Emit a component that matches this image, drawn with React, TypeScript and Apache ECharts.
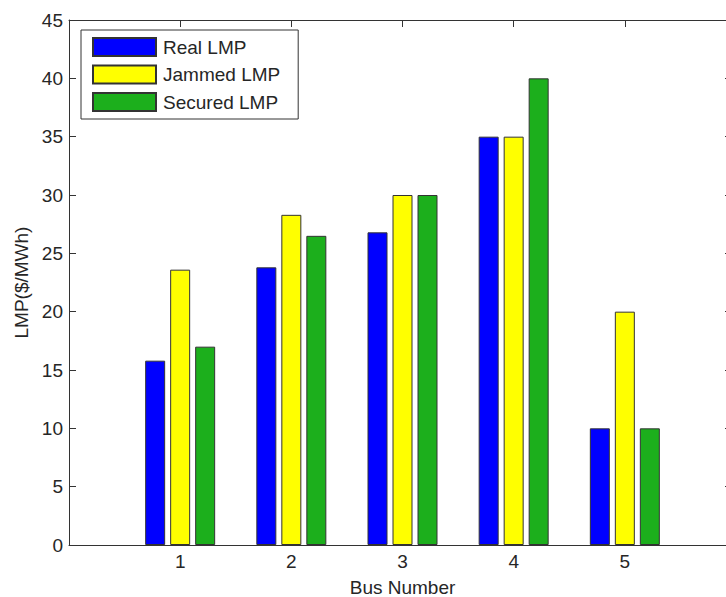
import React, { useEffect, useRef } from "react";
import * as echarts from "echarts";

const busNumbers = [1, 2, 3, 4, 5];
const realLMP = [15.8, 23.8, 26.8, 35, 10];
const jammedLMP = [23.6, 28.3, 30, 35, 20];
const securedLMP = [17.0, 26.5, 30, 40, 10];
const seriesNames = ["Real LMP", "Jammed LMP", "Secured LMP"];
const seriesColors = ["#0000ff", "#ffff00", "#1caf1c"];

const FONT = "'Liberation Sans', Arial, Helvetica, sans-serif";
const TEXT = "#262626";
const LINE = "#333333";

function axisLineOpt() {
  return { show: true, onZero: false, lineStyle: { color: LINE, width: 1 } };
}
function axisTickOpt(length: number) {
  return { show: true, inside: true, length, lineStyle: { color: LINE, width: 1 } };
}

export default function App() {
  const ref = useRef<HTMLDivElement>(null);
  useEffect(() => {
    if (!ref.current) return;
    const chart = echarts.init(ref.current, undefined, { renderer: "svg" });
    const values = [realLMP, jammedLMP, securedLMP];
    chart.setOption({
      animation: false,
      backgroundColor: "#ffffff",
      textStyle: { fontFamily: FONT },
      grid: {
        left: 69,
        top: 20,
        width: 667,
        height: 525,
        containLabel: false,
        outerBoundsMode: "none",
      },
      legend: {
        orient: "vertical",
        left: 81,
        top: 30,
        data: seriesNames,
        itemWidth: 63,
        itemHeight: 18,
        itemGap: 7.5,
        padding: [7, 18, 7, 11],
        borderColor: LINE,
        borderWidth: 1,
        borderRadius: 0,
        backgroundColor: "#ffffff",
        icon: "rect",
        textStyle: { fontFamily: FONT, fontSize: 19, color: TEXT, padding: [0, 0, 0, 2] },
      },
      xAxis: [
        {
          type: "value",
          min: 0,
          max: 6,
          interval: 1,
          position: "bottom",
          name: "Bus Number",
          nameLocation: "middle",
          nameGap: 33,
          nameTextStyle: { fontFamily: FONT, fontSize: 19, color: TEXT },
          axisLine: axisLineOpt(),
          axisTick: axisTickOpt(7),
          splitLine: { show: false },
          axisLabel: {
            fontFamily: FONT,
            fontSize: 19,
            color: TEXT,
            margin: 7,
            formatter: (v: number) => (busNumbers.indexOf(v) >= 0 ? String(v) : ""),
          },
        },
        {
          type: "value",
          min: 0,
          max: 6,
          interval: 1,
          position: "top",
          axisLine: axisLineOpt(),
          axisTick: axisTickOpt(7),
          splitLine: { show: false },
          axisLabel: { show: false },
        },
      ],
      yAxis: [
        {
          type: "value",
          min: 0,
          max: 45,
          interval: 5,
          position: "left",
          name: "LMP($/MWh)",
          nameLocation: "middle",
          nameGap: 37,
          nameTextStyle: { fontFamily: FONT, fontSize: 19, color: TEXT },
          axisLine: axisLineOpt(),
          axisTick: axisTickOpt(7),
          splitLine: { show: false },
          axisLabel: { fontFamily: FONT, fontSize: 19, color: TEXT, margin: 6 },
        },
        {
          type: "value",
          min: 0,
          max: 45,
          interval: 5,
          position: "right",
          axisLine: axisLineOpt(),
          axisTick: axisTickOpt(11),
          splitLine: { show: false },
          axisLabel: { show: false },
        },
      ],
      series: seriesNames.map((name, i) => ({
        name,
        type: "bar",
        xAxisIndex: 0,
        yAxisIndex: 0,
        barWidth: 20,
        barGap: "25%",
        itemStyle: { color: seriesColors[i], borderColor: LINE, borderWidth: 1 },
        data: busNumbers.map((b, j) => [b, values[i][j]]),
      })),
    });
    return () => chart.dispose();
  }, []);
  return (
    <div
      ref={ref}
      style={{ position: "fixed", left: 0, top: 0, width: 726, height: 597, background: "#fff" }}
    />
  );
}
